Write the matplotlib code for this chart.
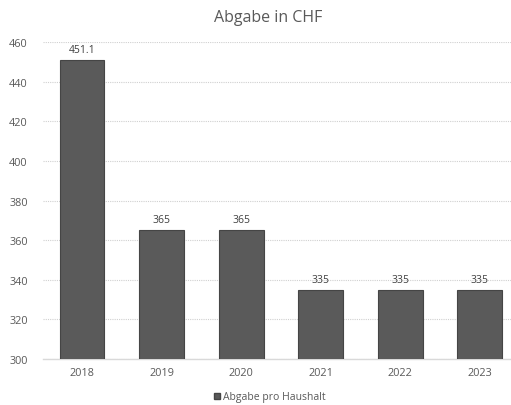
import matplotlib
matplotlib.use("Agg")
import numpy as np
import matplotlib.pyplot as plt
from matplotlib.patches import Patch

years = ["2018", "2019", "2020", "2021", "2022", "2023"]
abgabe = [451.1, 365, 365, 335, 335, 335]
bar_labels = ["451.1", "365", "365", "335", "335", "335"]
y_ticks = [300, 320, 340, 360, 380, 400, 420, 440, 460]

plt.rcParams['font.family'] = ['Open Sans', 'DejaVu Sans']

fig = plt.figure(figsize=(5.11, 4.06), dpi=100)
ax = fig.add_axes([43 / 511, 1 - 360 / 406, 1 - 43 / 511, (360 - 43.3) / 406])

x = np.arange(len(years))
ax.bar(x, abgabe, width=0.565, color="#5a5a5a", edgecolor="#454545", linewidth=0.8, zorder=3)

for xi, v, lab in zip(x, abgabe, bar_labels):
    ax.text(xi, v + 2.5, lab, ha="center", va="bottom", fontsize=7.5, color="#404040")

ax.set_xlim(-0.49, 5.39)
ax.set_ylim(300, 460)
ax.set_yticks(y_ticks)
ax.set_xticks(x)
ax.set_xticklabels(years)
ax.tick_params(axis="both", length=0, labelsize=7.8, colors="#595959")
ax.tick_params(axis="y", pad=11)
ax.tick_params(axis="x", pad=6)
ax.yaxis.grid(True, color="#d0d0d0", linestyle=(0, (1, 1)), linewidth=0.8, zorder=0)
for s in ["top", "right", "left"]:
    ax.spines[s].set_visible(False)
ax.spines["bottom"].set_color("#d9d9d9")
ax.spines["bottom"].set_linewidth(1.0)

fig.text(268 / 511, 1 - 18 / 406, "Abgabe in CHF", ha="center", va="center", fontsize=11.5, color="#595959")

handles = [Patch(facecolor="#5a5a5a", edgecolor="#454545", label="Abgabe pro Haushalt")]
fig.legend(handles=handles, loc="center", bbox_to_anchor=(270 / 511, 1 - 398 / 406), frameon=False,
           fontsize=7.5, handlelength=0.6, handleheight=0.6, handletextpad=0.3, labelcolor="#595959")

fig.savefig("out.png", dpi=100)
